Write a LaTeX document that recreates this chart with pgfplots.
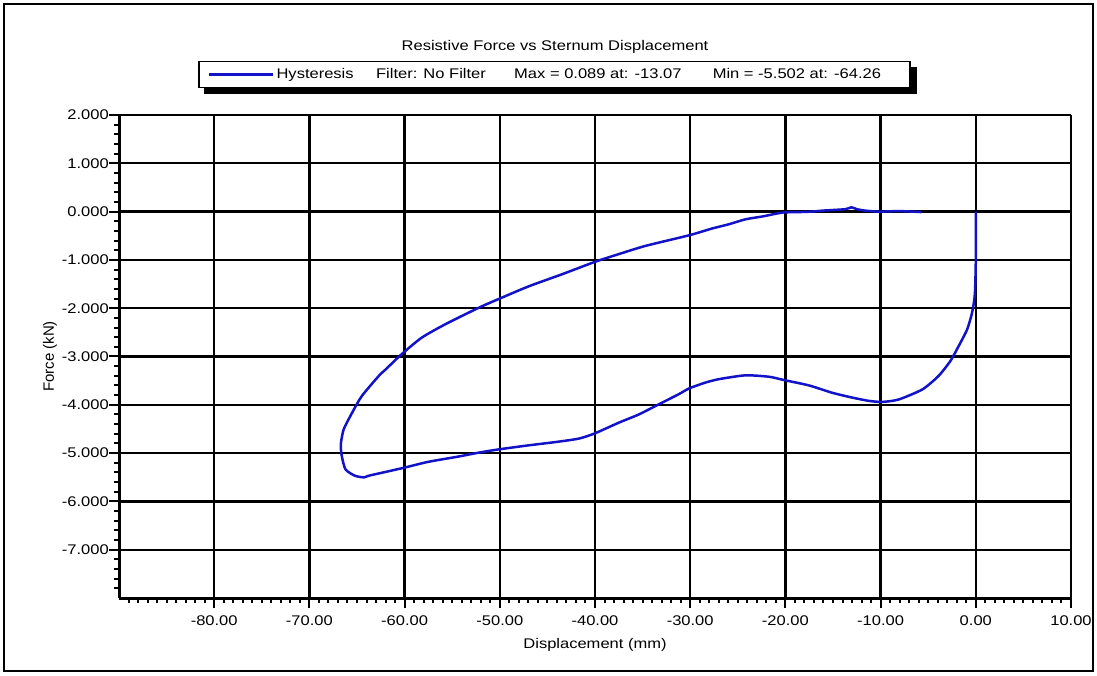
\documentclass[border=0pt]{standalone}
\usepackage{fontspec}
\setmainfont{Liberation Sans}
\usepackage{graphicx}
\usepackage{pgfplots}
\pgfplotsset{compat=1.18}
\usetikzlibrary{calc}
\definecolor{curve}{RGB}{18,18,200}
\newcommand\sx[1]{\scalebox{1.18}[1]{#1}}
\begin{document}
\fontsize{14}{16}\selectfont
\begin{tikzpicture}[x=1pt,y=1pt,font=\fontsize{14}{16}\selectfont]
\useasboundingbox (0,0) rectangle (1097,675);
\draw[line width=2pt] (4,4) rectangle (1093,671);
\begin{axis}[
  at={(119pt,77pt)}, anchor=south west, scale only axis,
  width=952pt, height=483pt,
  xmin=-90, xmax=10, ymin=-8, ymax=2,
  axis x line=bottom, axis y line=left,
  axis line style={-, line width=3pt, black},
  xtick={-80,-70,...,10},
  xticklabels={\sx{-80.00},\sx{-70.00},\sx{-60.00},\sx{-50.00},\sx{-40.00},\sx{-30.00},\sx{-20.00},\sx{-10.00},\sx{0.00},\sx{10.00}},
  minor xtick={-89,-88,...,9},
  ytick={-7,-6,...,2},
  yticklabels={\sx{-7.000},\sx{-6.000},\sx{-5.000},\sx{-4.000},\sx{-3.000},\sx{-2.000},\sx{-1.000},\sx{0.000},\sx{1.000},\sx{2.000}},
  minor ytick={-7.8,-7.6,-7.4,-7.2,-6.8,-6.6,-6.4,-6.2,-5.8,-5.6,-5.4,-5.2,-4.8,-4.6,-4.4,-4.2,-3.8,-3.6,-3.4,-3.2,-2.8,-2.6,-2.4,-2.2,-1.8,-1.6,-1.4,-1.2,-0.8,-0.6,-0.4,-0.2,0.2,0.4,0.6,0.8,1.2,1.4,1.6,1.8},
  tick align=outside,
  major tick length=10pt, minor tick length=5pt,
  tick style={black, line width=2pt},
  grid=major,
  major grid style={black, line width=2.3pt},
  yticklabel style={inner xsep=0pt},
  xticklabel style={inner ysep=8pt},
  xlabel={\sx{Displacement (mm)}},
  xlabel style={yshift=1pt},
  ylabel={Force (kN)},
  ylabel style={font=\fontsize{15}{17}\selectfont},
  title={\sx{Resistive Force vs Sternum Displacement}},
  every axis title shift=0pt,
  title style={at={(0.458,1.141)}, anchor=center},
  legend style={at={(0.4575,1.084)}, anchor=center, draw=black, line width=1.2pt, fill=white,
    inner xsep=9pt, inner ysep=5pt, name=leg},
  legend image code/.code={\draw[#1] (0pt,0pt) -- (64pt,0pt);},
]
\addplot[curve, line width=2.5pt, line join=round, smooth, tension=0.4] coordinates {
(0,0) (0,-1.0) (-0.1,-1.71) (-0.39,-2.09) (-0.91,-2.44) (-1.79,-2.78) (-2.66,-3.09)
(-3.9,-3.40) (-5.6,-3.68) (-8.1,-3.89) (-9.8,-3.94) (-11.2,-3.92) (-13.0,-3.85)
(-15.1,-3.75) (-17.5,-3.60) (-20.1,-3.49) (-21.7,-3.42) (-24.2,-3.39) (-27.0,-3.47)
(-28.4,-3.54) (-30.1,-3.66) (-31.2,-3.78) (-33.3,-3.99) (-35.4,-4.20) (-37.5,-4.37)
(-40,-4.59) (-41.7,-4.70) (-44.1,-4.77) (-47.0,-4.84) (-50,-4.92) (-52.2,-4.99)
(-54.3,-5.07) (-57.5,-5.18) (-60,-5.30) (-62,-5.39) (-63.8,-5.47) (-64.26,-5.502)
(-65.2,-5.47) (-66.2,-5.34) (-66.6,-5.06) (-66.7,-4.82) (-66.4,-4.51) (-65.5,-4.16)
(-64.5,-3.82) (-62.7,-3.40) (-62.0,-3.27) (-60.3,-2.95) (-58.2,-2.61) (-55.7,-2.33)
(-52.2,-1.99) (-50,-1.80) (-47,-1.55) (-43.5,-1.30) (-40,-1.04) (-37.5,-0.88)
(-34.7,-0.71) (-30.1,-0.49) (-27.7,-0.35) (-25.9,-0.26) (-24.2,-0.16) (-22.4,-0.10)
(-20.3,-0.02) (-18.6,-0.01) (-17.2,0) (-16.1,0.02) (-13.7,0.05) (-13.07,0.089)
(-12.5,0.05) (-11.6,0.02) (-10.2,0.0) (-8,0.01) (-5.7,-0.01)
};
\addlegendentry{\sx{Hysteresis\hspace{19pt}Filter: No Filter\hspace{24pt}Max = 0.089 at: -13.07\hspace{26.5pt}Min = -5.502 at: -64.26}\kern18pt}
\end{axis}
\fill[black] ($(leg.south west)+(6,-6)$) rectangle ($(leg.south east)+(6,0)$);
\fill[black] ($(leg.south east)+(0,-6)$) rectangle ($(leg.north east)+(6,-6)$);
\end{tikzpicture}
\end{document}
